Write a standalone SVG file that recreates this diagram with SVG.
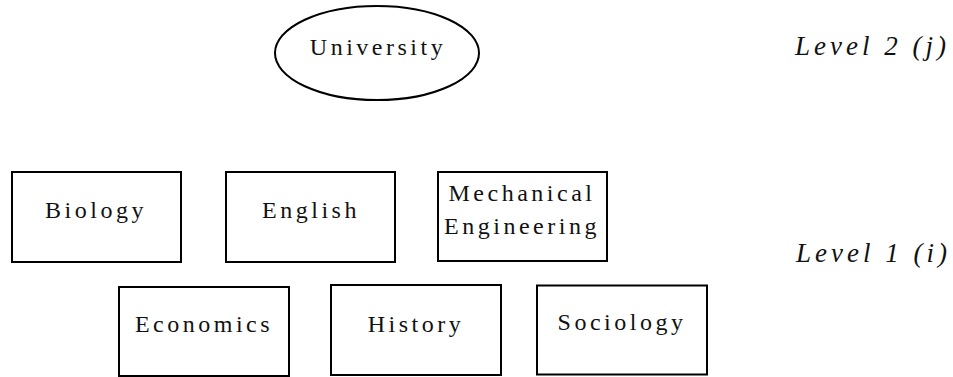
<svg xmlns="http://www.w3.org/2000/svg" width="953" height="377" viewBox="0 0 953 377">
  <style>
    .shape { fill: #ffffff; stroke: #000000; stroke-width: 2; }
    .lbl { font-family: 'Liberation Serif', 'DejaVu Serif', serif; font-size: 24px; letter-spacing: 3.5px; fill: #111111; text-anchor: middle; }
    .lvl { font-family: 'Liberation Serif', 'DejaVu Serif', serif; font-size: 27px; font-style: italic; letter-spacing: 4px; fill: #111111; }
  </style>
  <rect width="953" height="377" fill="#ffffff"/>
  <g id="connectors"></g>
  <g id="university">
    <ellipse class="shape" cx="377" cy="53" rx="102" ry="47"/>
    <text class="lbl" x="378" y="55">University</text>
  </g>
  <g id="biology">
    <rect class="shape" x="12" y="172" width="169" height="90"/>
    <text class="lbl" x="96" y="218">Biology</text>
  </g>
  <g id="english">
    <rect class="shape" x="226" y="172" width="169" height="90"/>
    <text class="lbl" x="311" y="218">English</text>
  </g>
  <g id="mechanical-engineering">
    <rect class="shape" x="438" y="172" width="169" height="89"/>
    <text class="lbl" x="522" y="201">Mechanical</text>
    <text class="lbl" x="522" y="234">Engineering</text>
  </g>
  <g id="economics">
    <rect class="shape" x="119" y="287" width="170" height="89"/>
    <text class="lbl" x="204" y="332">Economics</text>
  </g>
  <g id="history">
    <rect class="shape" x="331" y="285" width="170" height="90"/>
    <text class="lbl" x="416" y="332">History</text>
  </g>
  <g id="sociology">
    <rect class="shape" x="537" y="285.5" width="170" height="89"/>
    <text class="lbl" x="622" y="330">Sociology</text>
  </g>
  <g id="level2">
    <text class="lvl" x="795" y="55">Level 2 (j)</text>
  </g>
  <g id="level1">
    <text class="lvl" x="796" y="262">Level 1 (i)</text>
  </g>
</svg>
